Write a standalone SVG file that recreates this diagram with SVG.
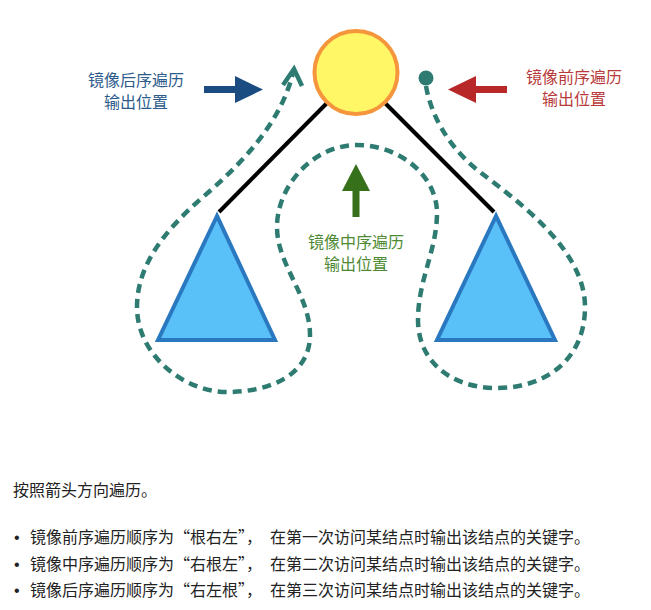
<svg xmlns="http://www.w3.org/2000/svg" width="651" height="610" viewBox="0 0 651 610">
<style>
.lbl{font-family:"Noto Sans CJK SC","Noto Sans",sans-serif;font-size:16px;text-anchor:middle}
.body{font-family:"Noto Sans CJK SC","Noto Sans",sans-serif;font-size:16px;fill:#222}
.bul{font-family:"Liberation Sans",sans-serif;font-size:16px;fill:#222}
.edge{stroke:#000;stroke-width:4;fill:none}
.tri{fill:#5ac0f8;stroke:#2a78c0;stroke-width:4;stroke-linejoin:miter}
.path{fill:none;stroke:#2e7b71;stroke-width:4.5;stroke-dasharray:9 6}
</style>
<rect width="651" height="610" fill="#fff"/>
<g id="connectors">
<line class="edge" x1="327" y1="103" x2="219" y2="212"/>
<line class="edge" x1="385" y1="103" x2="494" y2="212"/>
<path class="path" d="M426,86 C430,110 445,145 480,172 C520,203 585,250 585,307 C585,360 545,388 497,388 C449,388 418,360 418,320 C418,280 437,250 437,213 C437,176 400,145 357,145 C314,145 277,185 277,227 C277,265 310,295 310,335 C310,375 270,392 227,392 C184,392 137,355 137,307 C137,265 165,230 203,197 C240,165 280,125 293,73"/>
<polyline points="283,85 294,69 302,86" fill="none" stroke="#2e7b71" stroke-width="4.5" stroke-linejoin="miter"/>
<circle cx="426" cy="78" r="7.5" fill="#2e7b71"/>
</g>
<g id="root">
<circle cx="356" cy="72.5" r="41.5" fill="#fff765" stroke="#f5963c" stroke-width="4"/>
</g>
<g id="left-subtree">
<polygon class="tri" points="217,216 158,340 275,340"/>
</g>
<g id="right-subtree">
<polygon class="tri" points="496,216 437,340 555,340"/>
</g>
<g id="postorder-label">
<rect x="204" y="86" width="33" height="7" fill="#1a4c82"/>
<polygon points="235,76 263,89.5 235,103" fill="#1a4c82"/>
<text class="lbl" x="136" y="86" fill="#2d5c8c">镜像后序遍历</text>
<text class="lbl" x="136" y="108" fill="#2d5c8c">输出位置</text>
</g>
<g id="preorder-label">
<rect x="474" y="86" width="33" height="7" fill="#b82828"/>
<polygon points="476,76 448,89.5 476,103" fill="#b82828"/>
<text class="lbl" x="574" y="83" fill="#b83a3a">镜像前序遍历</text>
<text class="lbl" x="574" y="105" fill="#b83a3a">输出位置</text>
</g>
<g id="inorder-label">
<rect x="352.5" y="189" width="7" height="28" fill="#36701a"/>
<polygon points="342,191 356,164 370,191" fill="#36701a"/>
<text class="lbl" x="356" y="248" fill="#4d8a33">镜像中序遍历</text>
<text class="lbl" x="356" y="270" fill="#4d8a33">输出位置</text>
</g>
<g id="notes">
<text class="body" x="13" y="496">按照箭头方向遍历。</text>
<text class="bul" x="14" y="543">•</text>
<text class="body" x="30" y="543">镜像前序遍历顺序为“根右左”，<tspan x="270">在第一次访问某结点时输出该结点的关键字。</tspan></text>
<text class="bul" x="14" y="570">•</text>
<text class="body" x="30" y="570">镜像中序遍历顺序为“右根左”，<tspan x="270">在第二次访问某结点时输出该结点的关键字。</tspan></text>
<text class="bul" x="14" y="596">•</text>
<text class="body" x="30" y="596">镜像后序遍历顺序为“右左根”，<tspan x="270">在第三次访问某结点时输出该结点的关键字。</tspan></text>
</g>
</svg>
